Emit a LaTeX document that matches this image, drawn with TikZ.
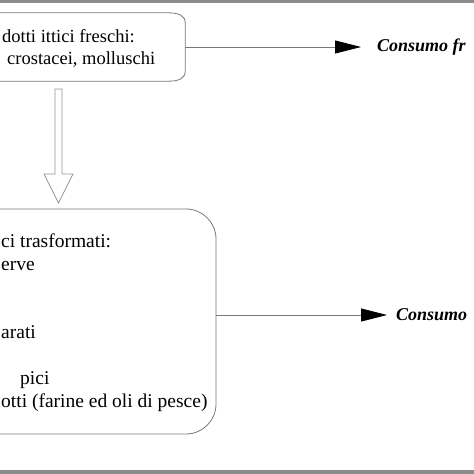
\documentclass[tikz,border=0pt]{standalone}
\usepackage{fontspec}
\setmainfont{Liberation Serif}
\usetikzlibrary{arrows.meta,positioning,calc}
\definecolor{boxgray}{RGB}{120,120,120}
\definecolor{bandgray}{RGB}{140,140,140}
\definecolor{arrowgray}{RGB}{150,150,150}

\begin{document}
\begin{tikzpicture}[x=1pt,y=-1pt,
  txt/.style={anchor=base west,inner sep=0pt,font=\fontsize{18.5}{22}\selectfont},
  bigtxt/.style={txt,font=\fontsize{19.5}{23}\selectfont},
  sink/.style={anchor=west,inner sep=0pt,font=\fontsize{18}{22}\selectfont\bfseries\itshape},
  frame/.style={draw=boxgray,line width=0.8pt},
  flow/.style={draw=boxgray,line width=0.8pt,-{Triangle[length=26pt,width=13pt,color=black]}},
  hollow/.style={draw=arrowgray,line width=0.8pt,fill=white}
]
\useasboundingbox (0,0) rectangle (474,474);
\fill[bandgray] (0,0) rectangle (474,2.7);
\fill[bandgray] (0,469.5) rectangle (474,474);

% boxes
\node[minimum width=205pt,minimum height=68pt,inner sep=0pt] (fresh) at (82.5,47) {};
\draw[frame] (fresh.north west) -- ([xshift=-17pt]fresh.north east)
  .. controls ([xshift=-6pt]fresh.north east) and ([yshift=-3pt]fresh.north east) .. ([yshift=-10pt]fresh.north east)
  -- ([yshift=10pt]fresh.south east)
  .. controls ([yshift=3pt]fresh.south east) and ([xshift=-6pt]fresh.south east) .. ([xshift=-17pt]fresh.south east)
  -- (fresh.south west);
\node[frame,rounded corners=30pt,minimum width=246pt,minimum height=225pt] (proc) at (93,321.5) {};

% texts
\node[txt] (f1) at (2,42.7) {dotti ittici freschi:};
\node[txt] (f2) at (7,64.3) {crostacei, molluschi};
\node[bigtxt] (p1) at (1,247) {ci trasformati:};
\node[bigtxt] (p2) at (1,270) {erve};
\node[bigtxt] (p3) at (1,338) {arati};
\node[bigtxt] (p4) at (20,384) {pici};
\node[bigtxt] (p5) at (1,407) {otti (farine ed oli di pesce)};

\node[sink] (cfresh) at (377,47) {Consumo fr};
\node[sink] (cproc) at (396,315) {Consumo};

% connectors
\draw[flow] (fresh.east) -- ([xshift=-16pt]cfresh.west);
\draw[flow] (proc.east |- cproc) -- ([xshift=-9pt]cproc.west);

\coordinate (dtop) at (58.5,89);
\coordinate (dtip) at (58.5,203);
\draw[hollow] (dtop) ++(-3.5,0) -- ++(7,0) -- ++(0,85) -- ++(11,0) -- (dtip)
  -- ++(-14.5,-29) -- ++(11,0) -- cycle;
\end{tikzpicture}
\end{document}
